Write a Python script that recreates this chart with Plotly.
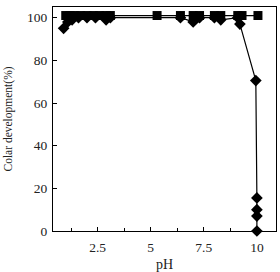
import plotly.graph_objects as go

ph_sq = [1.0, 1.2, 1.4, 1.7, 2.0, 2.3, 2.6, 2.9, 3.1, 5.3, 6.4, 7.0, 7.3, 8.0, 8.3, 9.1, 9.3, 10.05]
val_sq = [101, 101, 101, 101, 101, 101, 101, 101, 101, 101, 101, 101, 101, 101, 101, 101, 101, 101]

ph_di = [0.9, 1.1, 1.3, 1.6, 2.0, 2.4, 2.9, 3.1, 6.4, 7.0, 7.3, 8.0, 8.3, 9.1, 9.2, 9.95, 10.0, 10.0, 10.0, 10.0]
val_di = [95, 98, 99, 100, 100, 100, 99, 100, 100, 98, 100, 100, 99, 100, 97, 70.5, 15.5, 10, 7, 0]

x_ticks = [2.5, 5, 7.5, 10]
x_labels = ["2.5", "5", "7.5", "10"]
y_ticks = [0, 20, 40, 60, 80, 100]

fig = go.Figure()
fig.add_trace(go.Scatter(x=ph_sq, y=val_sq, mode="lines+markers",
                         line=dict(color="black", width=1.2),
                         marker=dict(symbol="square", size=9, color="black"),
                         cliponaxis=False, showlegend=False))
fig.add_trace(go.Scatter(x=ph_di, y=val_di, mode="lines+markers",
                         line=dict(color="black", width=1.2),
                         marker=dict(symbol="diamond", size=9, color="black"),
                         cliponaxis=False, showlegend=False))

font = dict(family="Liberation Serif", size=13.5, color="#222")
fig.update_layout(
    width=280, height=272,
    margin=dict(l=53, r=3, t=7, b=39),
    paper_bgcolor="white", plot_bgcolor="white",
    font=font,
    xaxis=dict(range=[0.4, 10.9], tickvals=x_ticks, ticktext=x_labels,
               ticks="inside", ticklen=4, tickcolor="black", ticklabelstandoff=4,
               minor=dict(dtick=1.25, tick0=0, ticks="inside", ticklen=3, tickcolor="black"),
               showline=True, linecolor="black", linewidth=1.2, mirror=True,
               showgrid=False, zeroline=False,
               title=dict(text="pH", standoff=4, font=dict(size=14))),
    yaxis=dict(range=[0, 105], tickvals=y_ticks,
               ticks="inside", ticklen=4, tickcolor="black", ticklabelstandoff=2,
               showline=True, linecolor="black", linewidth=1.2, mirror=True,
               showgrid=False, zeroline=False,
               title=dict(text="Colar development(%)", standoff=11, font=dict(size=11.5))),
)
fig.write_html("out.html")
